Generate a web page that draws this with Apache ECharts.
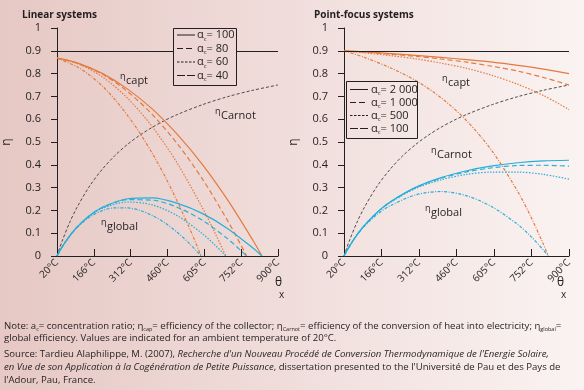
<!DOCTYPE html>
<html><head><meta charset="utf-8">
<script src="https://cdn.jsdelivr.net/npm/echarts@6/dist/echarts.min.js"></script>
<style>
html,body{margin:0;padding:0;}
body{width:584px;height:390px;background:linear-gradient(to right,#e6c8c4,#faf3f2);overflow:hidden;}
#c{width:584px;height:390px;}
</style></head><body><div id="c"></div>
<script>
// ---------- DATA ----------
const tickTemps = [20, 166.67, 313.33, 460, 606.67, 753.33, 900];
const tickLabels = ['20°C','166°C','312°C','460°C','605°C','752°C','900°C'];
const yTickLabels = ['0','0.1','0.2','0.3','0.4','0.5','0.6','0.7','0.8','0.9','1'];

const carnotT   = [20, 40, 70, 100, 150, 200, 250, 300, 350, 400, 450, 500, 600, 700, 800, 900];
const carnotEta = [0, 0.064, 0.146, 0.214, 0.307, 0.380, 0.440, 0.489, 0.530, 0.565, 0.595, 0.621, 0.664, 0.699, 0.727, 0.750];

// Linear systems – collector efficiency
const captL100T = [20, 100, 200, 300, 400, 500, 600, 700, 800, 836];
const captL100  = [0.868, 0.847, 0.801, 0.733, 0.644, 0.532, 0.400, 0.245, 0.069, 0];
const captL80T  = [20, 100, 200, 300, 400, 500, 600, 700, 750, 775];
const captL80   = [0.868, 0.846, 0.798, 0.722, 0.620, 0.491, 0.336, 0.154, 0.053, 0];
const captL60T  = [20, 100, 200, 300, 400, 500, 600, 650, 680, 692];
const captL60   = [0.868, 0.845, 0.786, 0.693, 0.566, 0.405, 0.209, 0.099, 0.029, 0];
const captL40T  = [20, 100, 150, 200, 250, 300, 350, 400, 450, 500, 550, 594];
const captL40   = [0.868, 0.830, 0.793, 0.746, 0.687, 0.618, 0.539, 0.449, 0.349, 0.237, 0.116, 0];

// Linear systems – global efficiency
const globL100T = [20, 40, 70, 100, 150, 200, 300, 400, 500, 600, 700, 800, 836];
const globL100  = [0, 0.039, 0.087, 0.127, 0.178, 0.213, 0.251, 0.255, 0.231, 0.186, 0.120, 0.035, 0];
const globL80T  = [20, 40, 70, 100, 150, 200, 300, 400, 500, 600, 700, 750, 775];
const globL80   = [0, 0.039, 0.087, 0.127, 0.177, 0.213, 0.247, 0.245, 0.213, 0.156, 0.075, 0.026, 0];
const globL60T  = [20, 40, 70, 100, 150, 200, 300, 400, 500, 600, 650, 680, 692];
const globL60   = [0, 0.039, 0.087, 0.127, 0.176, 0.209, 0.237, 0.224, 0.176, 0.097, 0.047, 0.014, 0];
const globL40T  = [20, 40, 70, 100, 150, 200, 250, 300, 350, 400, 450, 500, 550, 594];
const globL40   = [0, 0.039, 0.087, 0.125, 0.171, 0.199, 0.211, 0.211, 0.200, 0.177, 0.145, 0.103, 0.052, 0];

// Point-focus systems – collector efficiency
const captPT     = [20, 100, 200, 300, 400, 500, 600, 700, 800, 900];
const captP2000  = [0.9, 0.895, 0.888, 0.880, 0.871, 0.861, 0.850, 0.836, 0.820, 0.800];
const captP1000  = [0.9, 0.894, 0.885, 0.876, 0.864, 0.850, 0.832, 0.811, 0.783, 0.750];
const captP500   = [0.9, 0.891, 0.879, 0.865, 0.846, 0.823, 0.792, 0.753, 0.704, 0.642];
const captP100T  = [20, 100, 200, 300, 400, 500, 600, 700, 750, 800, 819];
const captP100   = [0.9, 0.871, 0.826, 0.770, 0.694, 0.593, 0.459, 0.282, 0.174, 0.051, 0];

// Point-focus systems – global efficiency
const globPT     = [20, 40, 70, 100, 150, 200, 300, 400, 500, 600, 700, 800, 900];
const globP2000  = [0, 0.040, 0.092, 0.134, 0.192, 0.237, 0.301, 0.344, 0.374, 0.395, 0.409, 0.417, 0.420];
const globP1000  = [0, 0.040, 0.092, 0.134, 0.191, 0.236, 0.300, 0.341, 0.369, 0.387, 0.397, 0.398, 0.394];
const globP500   = [0, 0.040, 0.091, 0.134, 0.191, 0.234, 0.296, 0.334, 0.358, 0.368, 0.368, 0.358, 0.337];
const globP100T  = [20, 40, 70, 100, 150, 200, 300, 400, 500, 600, 700, 750, 800, 819];
const globP100   = [0, 0.040, 0.090, 0.131, 0.183, 0.220, 0.268, 0.283, 0.264, 0.215, 0.138, 0.087, 0.026, 0];

const legendLeft  = ['100', '80', '60', '40'];
const legendRight = ['2 000', '1 000', '500', '100'];

// ---------- STYLE ----------
const FONT = "'Open Sans', 'DejaVu Sans', sans-serif";
const ORANGE = '#e47a3d';
const BLUE = '#25afd9';
const INK = '#231f20';
const DASH = ['solid', [5, 3], [1.5, 1.5], [3, 1.5, 1, 1.5]];
const LEG_DASH = ['solid', [6, 3], [2.5, 1.5], [8, 2]];

function zip(t, v) { return t.map((x, i) => [x, v[i]]); }
function bgAt(x) {
  const t = x / 584, a = [230, 200, 196], b = [250, 243, 242];
  return 'rgb(' + a.map((c, i) => Math.round(c + (b[i] - c) * t)).join(',') + ')';
}

function line(name, t, v, color, dash, gi, extra) {
  return Object.assign({
    name, type: 'line', xAxisIndex: gi, yAxisIndex: gi, data: zip(t, v),
    showSymbol: false, symbol: 'none', smooth: 0.3, silent: true,
    lineStyle: { color, width: 1.2, type: dash }, z: 3
  }, extra || {});
}

const ref09 = {
  markLine: {
    silent: true, symbol: 'none', label: { show: false },
    lineStyle: { color: INK, width: 1, type: 'solid' },
    data: [{ yAxis: 0.9 }]
  }
};

const grids = [
  { left: 54, top: 28, width: 224, height: 228 },
  { left: 344, top: 28, width: 225, height: 228 }
];

function xAxis(gi) {
  return {
    type: 'value', gridIndex: gi, min: 20, max: 900,
    axisLine: { lineStyle: { color: INK, width: 1 } },
    axisTick: { inside: true, length: 7, customValues: tickTemps, lineStyle: { color: INK } },
    axisLabel: {
      customValues: tickTemps, rotate: 45, margin: 5, fontSize: 10, color: INK, fontFamily: FONT,
      formatter: v => { const i = tickTemps.findIndex(t => Math.abs(t - v) < 1); return i >= 0 ? tickLabels[i] : ''; }
    },
    splitLine: { show: false }
  };
}
function yAxis(gi) {
  return {
    type: 'value', gridIndex: gi, min: 0, max: 1, interval: 0.1,
    name: 'η', nameLocation: 'middle', nameGap: 44, nameRotate: 90,
    nameTextStyle: { fontSize: 12, color: INK, fontFamily: FONT },
    axisLine: { show: true, lineStyle: { color: INK, width: 1 } },
    axisTick: { show: true, length: 6, lineStyle: { color: INK } },
    axisLabel: { margin: 16, fontSize: 11, color: INK, fontFamily: FONT,
      formatter: v => yTickLabels[Math.round(v * 10)] },
    splitLine: { show: false }
  };
}

const series = [
  line('Carnot L', carnotT, carnotEta, '#3a3a3a', [3, 2], 0, Object.assign({ lineStyle: { color: '#3a3a3a', width: 0.9, type: [3, 2] } }, ref09)),
  line('capt 100', captL100T, captL100, ORANGE, DASH[0], 0),
  line('capt 80', captL80T, captL80, ORANGE, DASH[1], 0),
  line('capt 60', captL60T, captL60, ORANGE, DASH[2], 0),
  line('capt 40', captL40T, captL40, ORANGE, DASH[3], 0),
  line('glob 100', globL100T, globL100, BLUE, DASH[0], 0),
  line('glob 80', globL80T, globL80, BLUE, DASH[1], 0),
  line('glob 60', globL60T, globL60, BLUE, DASH[2], 0),
  line('glob 40', globL40T, globL40, BLUE, DASH[3], 0),

  line('Carnot P', carnotT, carnotEta, '#3a3a3a', [3, 2], 1, Object.assign({ lineStyle: { color: '#3a3a3a', width: 0.9, type: [3, 2] } }, ref09)),
  line('capt 2000', captPT, captP2000, ORANGE, DASH[0], 1),
  line('capt 1000', captPT, captP1000, ORANGE, DASH[1], 1),
  line('capt 500', captPT, captP500, ORANGE, DASH[2], 1),
  line('capt 100P', captP100T, captP100, ORANGE, DASH[3], 1),
  line('glob 2000', globPT, globP2000, BLUE, DASH[0], 1),
  line('glob 1000', globPT, globP1000, BLUE, DASH[1], 1),
  line('glob 500', globPT, globP500, BLUE, DASH[2], 1),
  line('glob 100P', globP100T, globP100, BLUE, DASH[3], 1)
];

// ---------- GRAPHICS ----------
const richLeg = {
  a: { fontSize: 11, fontFamily: FONT, fill: INK, lineHeight: 14, verticalAlign: 'middle' },
  c: { fontSize: 6, fontFamily: FONT, fill: INK, lineHeight: 6, verticalAlign: 'bottom' }
};
function legendBox(x0, y0, w, h, rows, labels, lineX0, lineX1, textX) {
  const els = [{
    type: 'rect', shape: { x: x0 + 0.5, y: y0 + 0.5, width: w, height: h }, z: 10,
    style: { fill: { type: 'linear', x: 0, y: 0, x2: 1, y2: 0, colorStops: [{ offset: 0, color: bgAt(x0) }, { offset: 1, color: bgAt(x0 + w) }] },
      stroke: INK, lineWidth: 1 }
  }];
  labels.forEach((lab, i) => {
    els.push({ type: 'line', z: 11, shape: { x1: lineX0, y1: rows[i], x2: lineX1, y2: rows[i] },
      style: { stroke: INK, lineWidth: 1, lineDash: LEG_DASH[i] === 'solid' ? null : LEG_DASH[i] } });
    els.push({ type: 'text', z: 11, x: textX, y: rows[i],
      style: { text: '{a|α}{c|c}{a|= ' + lab + '}', rich: richLeg, verticalAlign: 'middle', align: 'left' } });
  });
  return els;
}
function etaLabel(x, y, sub) {
  return [
    { type: 'text', z: 5, x: x, y: y - 5, style: { text: 'η', fontSize: 9, fontFamily: FONT, fill: INK, verticalAlign: 'middle' } },
    { type: 'text', z: 5, x: x + 6, y: y, style: { text: sub, fontSize: 11, fontFamily: FONT, fill: INK, verticalAlign: 'middle' } }
  ];
}
function title(x, text) {
  return { type: 'text', x, y: 15, style: { text, fontSize: 10, fontWeight: 'bold', fontFamily: FONT, fill: INK, verticalAlign: 'middle' } };
}
function theta(x) {
  return [
    { type: 'text', x: x, y: 283, style: { text: 'θ', fontSize: 12, fontFamily: FONT, fill: INK, verticalAlign: 'middle' } },
    { type: 'text', x: x + 4, y: 295, style: { text: 'x', fontSize: 10, fontFamily: FONT, fill: INK, verticalAlign: 'middle' } }
  ];
}

const noteRich = {
  n: { fontSize: 9.6, fontFamily: FONT, fill: INK, lineHeight: 13, verticalAlign: 'middle' },
  i: { fontSize: 9.6, fontFamily: FONT, fontStyle: 'italic', fill: INK, lineHeight: 13, verticalAlign: 'middle' },
  s: { fontSize: 5.5, fontFamily: FONT, fill: INK, lineHeight: 5, verticalAlign: 'bottom' }
};
function noteText(y, text) {
  return { type: 'text', x: 4, y, style: { text, rich: noteRich, verticalAlign: 'middle', align: 'left' } };
}

const graphics = [].concat(
  [title(22, 'Linear systems'), title(314, 'Point-focus systems')],
  legendBox(173, 28, 63, 57, [35, 48.5, 62, 75.5], legendLeft, 177, 195, 197),
  legendBox(346, 81, 71, 57, [89.5, 102.5, 115.5, 128.5], legendRight, 350, 368, 371),
  etaLabel(120, 81, 'capt'), etaLabel(215, 116, 'Carnot'), etaLabel(101, 227, 'global'),
  etaLabel(442, 83, 'capt'), etaLabel(431, 155, 'Carnot'), etaLabel(425, 213, 'global'),
  theta(275), theta(557),
  [
    noteText(326, '{n|Note: a}{s|c}{n|= concentration ratio; η}{s|cap}{n|= efficiency of the collector; η}{s|Carnot}{n|= efficiency of the conversion of heat into electricity; η}{s|global}{n|=}'),
    noteText(338, '{n|global efficiency. Values are indicated for an ambient temperature of 20°C.}'),
    noteText(354, "{n|Source: Tardieu Alaphilippe, M. (2007), }{i|Recherche d'un Nouveau Procédé de Conversion Thermodynamique de l'Energie Solaire,}"),
    noteText(367, "{i|en Vue de son Application à la Cogénération de Petite Puissance}{n|, dissertation presented to the l'Université de Pau et des Pays de}"),
    noteText(380, "{n|l'Adour, Pau, France.}")
  ]
);

const chart = echarts.init(document.getElementById('c'), null, { renderer: 'canvas' });
chart.setOption({
  animation: false,
  backgroundColor: 'transparent',
  textStyle: { fontFamily: FONT },
  grid: grids,
  xAxis: [xAxis(0), xAxis(1)],
  yAxis: [yAxis(0), yAxis(1)],
  series,
  graphic: graphics
});
</script></body></html>
